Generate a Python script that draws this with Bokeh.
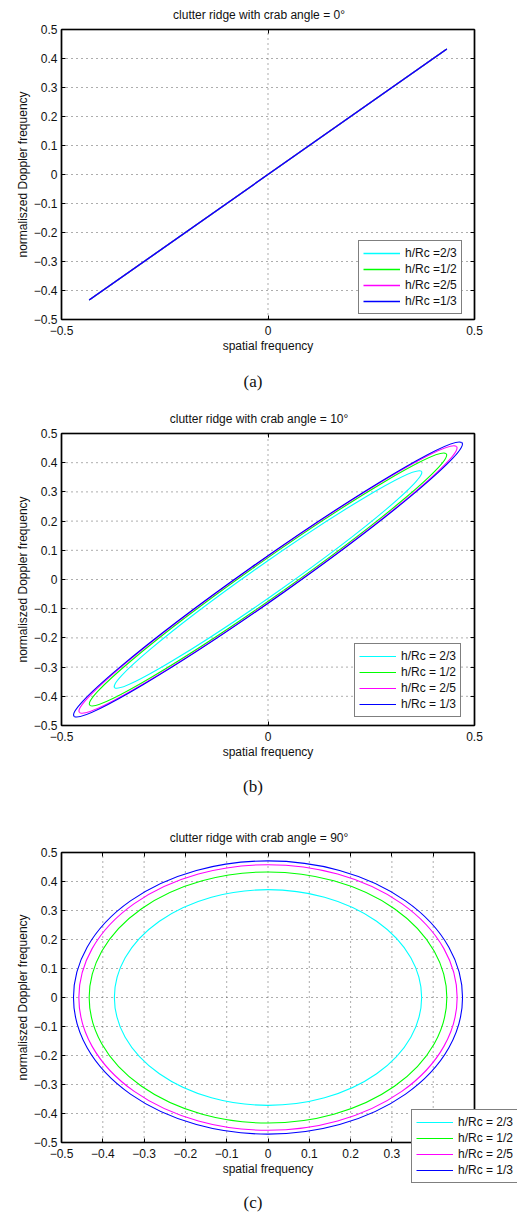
from bokeh.plotting import figure
from bokeh.models import (Range1d, FixedTicker, LinearAxis, Legend, LegendItem,
                          ColumnDataSource, Div, BoxAnnotation)
from bokeh.layouts import column
from bokeh.embed import file_html
from bokeh.resources import INLINE

# ---------------- data ----------------
colors = ["#00FFFF", "#00FF00", "#FF00FF", "#0000FF"]
labels_a = ["h/Rc =2/3", "h/Rc =1/2", "h/Rc =2/5", "h/Rc =1/3"]
labels_bc = ["h/Rc = 2/3", "h/Rc = 1/2", "h/Rc = 2/5", "h/Rc = 1/3"]

titles = ["clutter ridge with crab angle = 0\u00b0",
          "clutter ridge with crab angle = 10\u00b0",
          "clutter ridge with crab angle = 90\u00b0"]
captions = ["(a)", "(b)", "(c)"]

# (a) crab angle 0: straight ridge, start/end points of each curve
a_x0 = [-0.433, -0.433, -0.433, -0.433]
a_y0 = [-0.433, -0.433, -0.433, -0.433]
a_x1 = [0.433, 0.433, 0.433, 0.433]
a_y1 = [0.433, 0.433, 0.433, 0.433]

# (b) crab angle 10: tilted ellipses, tip on the diagonal (t, t) and
#     minor-axis end point (-m, m)
b_tip = [0.371, 0.431, 0.456, 0.469]
b_minor = [0.0325, 0.0377, 0.0400, 0.0410]

# (c) crab angle 90: circles, radius of each
c_radius = [0.372, 0.433, 0.458, 0.471]

axis_lim = (-0.5, 0.5)
ab_xticks = [-0.5, 0.0, 0.5]
ab_xtick_labels = ["\u22120.5", "0", "0.5"]
c_xticks = [-0.5, -0.4, -0.3, -0.2, -0.1, 0.0, 0.1, 0.2, 0.3, 0.4, 0.5]
c_xtick_labels = ["\u22120.5", "\u22120.4", "\u22120.3", "\u22120.2", "\u22120.1", "0",
                  "0.1", "0.2", "0.3", "0.4", "0.5"]
yticks = [-0.5, -0.4, -0.3, -0.2, -0.1, 0.0, 0.1, 0.2, 0.3, 0.4, 0.5]
ytick_labels = ["\u22120.5", "\u22120.4", "\u22120.3", "\u22120.2", "\u22120.1", "0",
                "0.1", "0.2", "0.3", "0.4", "0.5"]

FONT = "Liberation Sans"
KAPPA = 0.5523
NAN = float("nan")

# ---------------- layout (pixels) ----------------
FIG_W = 517
BOX_L, BOX_W = 61, 413          # axes box left offset and width
BOX_R_MARGIN = FIG_W - BOX_L - BOX_W
BOX_LW = 1.6


def make_fig(title, height, top, pad_top, box_h, xticks, xtick_labels):
    lo, hi = axis_lim
    span = hi - lo
    frame_h = height - top
    pad_bot = frame_h - pad_top - box_h
    xr = Range1d(lo - span * BOX_L / BOX_W, hi + span * BOX_R_MARGIN / BOX_W)
    yr = Range1d(lo - span * pad_bot / box_h, hi + span * pad_top / box_h)
    p = figure(width=FIG_W, height=height, output_backend="svg", toolbar_location=None,
               x_range=xr, y_range=yr,
               min_border_left=0, min_border_right=0, min_border_top=top,
               min_border_bottom=0, title=title)
    p.title.align = "center"
    p.title.offset = 9
    p.title.text_font = FONT
    p.title.text_font_size = "12px"
    p.title.text_font_style = "normal"
    p.title.text_color = "#111111"
    p.title.standoff = 1
    p.outline_line_color = None
    p.background_fill_color = "white"
    p.border_fill_color = "white"
    p.xgrid.visible = False
    p.ygrid.visible = False

    # dotted grid at the tick positions, inside the axes box
    p.segment(x0=xticks, y0=[lo] * len(xticks), x1=xticks, y1=[hi] * len(xticks),
              line_color="#333333", line_dash="1 4", line_width=1, line_alpha=0.8)
    p.segment(x0=[lo] * len(yticks), y0=yticks, x1=[hi] * len(yticks), y1=yticks,
              line_color="#333333", line_dash="1 4", line_width=1, line_alpha=0.8)

    xo = {t: l for t, l in zip(xticks, xtick_labels)}
    yo = {t: l for t, l in zip(yticks, ytick_labels)}
    p.xaxis.ticker = FixedTicker(ticks=xticks)
    p.yaxis.ticker = FixedTicker(ticks=yticks)
    p.xaxis.major_label_overrides = xo
    p.yaxis.major_label_overrides = yo
    p.xaxis.axis_label = "spatial frequency"
    p.yaxis.axis_label = "normaliszed Doppler frequency"
    p.xaxis.fixed_location = lo
    p.yaxis.fixed_location = lo
    for ax in (p.xaxis[0], p.yaxis[0]):
        ax.bounds = axis_lim
        ax.major_tick_in = 4
        ax.major_tick_out = 0
        ax.minor_tick_line_color = None
        ax.axis_line_color = "black"
        ax.axis_line_width = BOX_LW
        ax.major_tick_line_color = "black"
        ax.major_label_text_font = FONT
        ax.major_label_text_font_size = "12px"
        ax.major_label_text_color = "#111111"
        ax.axis_label_text_font = FONT
        ax.axis_label_text_font_size = "12px"
        ax.axis_label_text_font_style = "normal"
        ax.axis_label_text_color = "#111111"
        ax.axis_label_standoff = 1
    p.xaxis.major_label_standoff = 6
    p.yaxis.major_label_standoff = 4

    # inward ticks on the top and right edges of the box (no labels)
    for loc, tk in (("right", yticks), ("above", xticks)):
        ax = LinearAxis(ticker=FixedTicker(ticks=tk), fixed_location=hi, bounds=axis_lim,
                        major_tick_in=4, major_tick_out=0, minor_tick_line_color=None,
                        major_label_text_color=None, axis_line_color="black",
                        axis_line_width=BOX_LW)
        p.add_layout(ax, loc)

    p.add_layout(BoxAnnotation(left=lo, right=hi, bottom=lo, top=hi, fill_alpha=0,
                               fill_color=None, line_color="black", line_width=BOX_LW))
    return p


def make_legend(renderers, labels, loc):
    items = [LegendItem(label=l, renderers=[r]) for l, r in zip(labels, renderers)]
    return Legend(items=items, location=loc, border_line_color="black",
                  border_line_width=1.5, background_fill_color="white",
                  background_fill_alpha=1.0, padding=4, spacing=0, margin=0,
                  label_height=16, glyph_height=16, glyph_width=37, label_standoff=5,
                  label_text_font=FONT, label_text_font_size="12px",
                  label_text_color="#111111")


def legend_lines(p):
    # invisible (NaN) stand-ins that only provide the legend's line samples
    rs = []
    for c in colors:
        rs.append(p.line(x=[NAN], y=[NAN], line_color=c, line_width=1.2))
    return rs


# ---------------- (a) ----------------
pa = make_fig(titles[0], 372, 22, 7, 290, ab_xticks, ab_xtick_labels)
ra = []
for i, c in enumerate(colors):
    ra.append(pa.line(x=[a_x0[i], a_x1[i]], y=[a_y0[i], a_y1[i]], line_color=c, line_width=1.3))
pa.add_layout(make_legend(ra, labels_a, (358, 58)))

# ---------------- (b) ----------------
pb = make_fig(titles[1], 375, 24, 7, 292, ab_xticks, ab_xtick_labels)
for i, c in enumerate(colors):
    t, m = b_tip[i], b_minor[i]
    P = (t, t)
    Q = (-m, m)
    x0 = [P[0], Q[0], -P[0], -Q[0]]
    y0 = [P[1], Q[1], -P[1], -Q[1]]
    x1 = [Q[0], -P[0], -Q[0], P[0]]
    y1 = [Q[1], -P[1], -Q[1], P[1]]
    cx0 = [P[0] + KAPPA * Q[0], Q[0] - KAPPA * P[0], -P[0] - KAPPA * Q[0], -Q[0] + KAPPA * P[0]]
    cy0 = [P[1] + KAPPA * Q[1], Q[1] - KAPPA * P[1], -P[1] - KAPPA * Q[1], -Q[1] + KAPPA * P[1]]
    cx1 = [Q[0] + KAPPA * P[0], -P[0] + KAPPA * Q[0], -Q[0] - KAPPA * P[0], P[0] - KAPPA * Q[0]]
    cy1 = [Q[1] + KAPPA * P[1], -P[1] + KAPPA * Q[1], -Q[1] - KAPPA * P[1], P[1] - KAPPA * Q[1]]
    src = ColumnDataSource(dict(x0=x0, y0=y0, x1=x1, y1=y1, cx0=cx0, cy0=cy0, cx1=cx1, cy1=cy1))
    pb.bezier(x0="x0", y0="y0", x1="x1", y1="y1", cx0="cx0", cy0="cy0", cx1="cx1", cy1="cy1",
              source=src, line_color=c, line_width=1.1)
pb.add_layout(make_legend(legend_lines(pb), labels_bc, (354, 60)))

# ---------------- (c) ----------------
pc = make_fig(titles[2], 386, 38, 7, 290, c_xticks, c_xtick_labels)
for i, c in enumerate(colors):
    r = c_radius[i]
    pc.ellipse(x=[0.0], y=[0.0], width=[2 * r], height=[2 * r], fill_color=None,
               line_color=c, line_width=1.1)
pc.add_layout(make_legend(legend_lines(pc), labels_bc, (411, 10)))


def cap(text, h):
    return Div(text=text, width=506, height=h, margin=0,
               styles={"text-align": "center", "font-family": "Liberation Serif",
                       "font-size": "17px", "line-height": "20px", "color": "#111111"})


layout = column(pa, cap(captions[0], 30), pb, cap(captions[1], 30), pc, cap(captions[2], 21),
                spacing=0)

open("out.html", "w").write(file_html(layout, INLINE))
